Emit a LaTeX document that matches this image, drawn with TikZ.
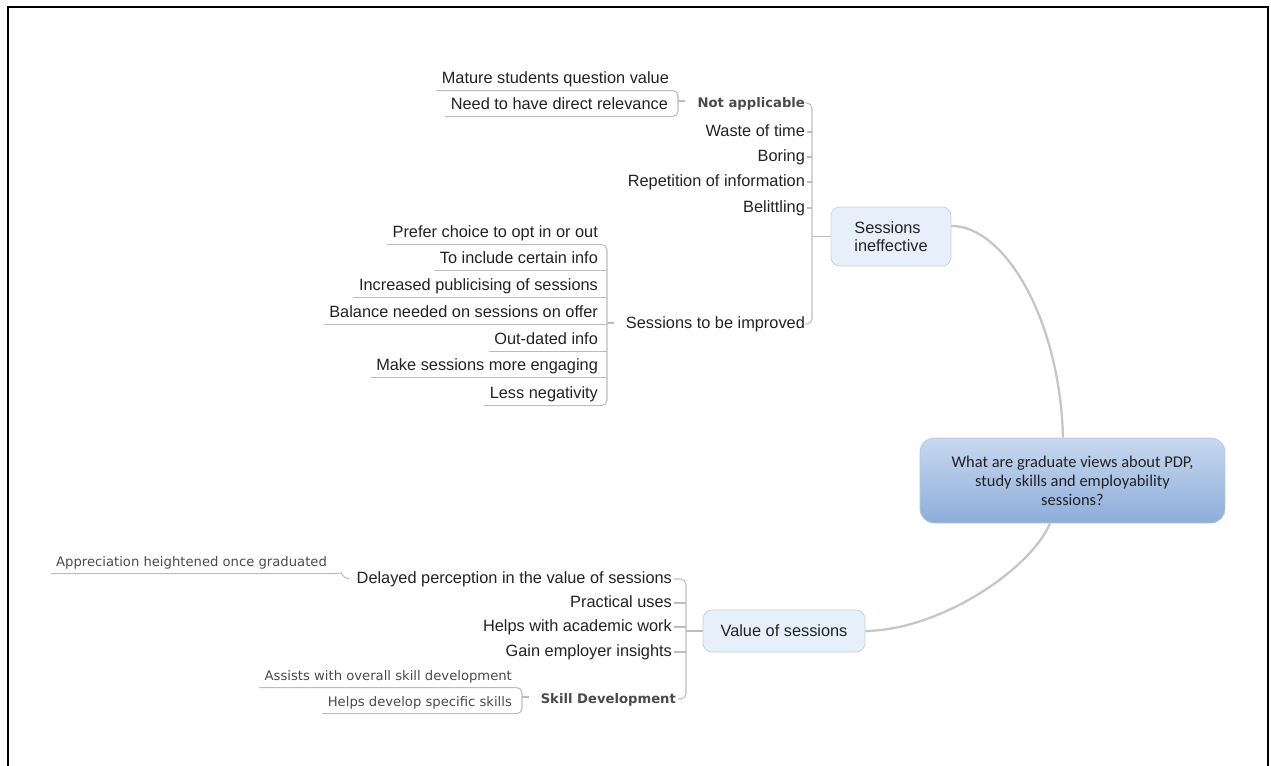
\documentclass[tikz,border=0pt]{standalone}
\usepackage{fontspec}
\setmainfont{Liberation Sans}
\newfontfamily\verdanafont{DejaVu Sans}
\newfontfamily\calibrifont{Carlito}
\usetikzlibrary{positioning}
\definecolor{txt}{HTML}{222222}
\definecolor{subtxt}{HTML}{4A4A4A}
\definecolor{linegray}{HTML}{BDBDBD}
\definecolor{curvegray}{HTML}{C6C6C6}
\definecolor{boxfill}{HTML}{E7EFFB}
\definecolor{boxline}{HTML}{C5D0DE}
\definecolor{rootTop}{HTML}{C8D8EF}
\definecolor{rootBot}{HTML}{8DADDA}
\newcommand{\mainsize}{\fontsize{9.3}{10.4}\selectfont}
\newcommand{\smallsize}{\fontsize{7.5}{9}\selectfont\verdanafont}
\tikzset{topicbox/.style={rectangle,draw=boxline,fill=boxfill,rounded corners=5pt,font=\mainsize,text=txt,align=left},leaf/.style={anchor=east,font=\mainsize,text=txt,inner xsep=1pt,inner ysep=2pt,text height=7pt,text depth=1.8pt},subleaf/.style={leaf,font=\smallsize,text=subtxt},headleaf/.style={leaf,font=\smallsize\bfseries,text=subtxt},branch/.style={draw=linegray,line width=0.6pt,rounded corners=3pt},mainlink/.style={draw=curvegray,line width=1.3pt}}

\begin{document}
\begin{tikzpicture}[x=0.02cm,y=-0.02cm]
\useasboundingbox (0,0) rectangle (1271,765);
\draw[line width=1.2pt] (8,770) -- (8,7) -- (1268,7) -- (1268,770);
% central question
\node[rectangle,draw=rootTop!80!gray,rounded corners=8pt,top color=rootTop,bottom color=rootBot,minimum width=6.1cm,minimum height=1.7cm,align=center,font=\calibrifont\fontsize{9.35}{10.8}\selectfont,text=txt] (root) at (1072.5,480.5) {What are graduate views about PDP,\\study skills and employability\\sessions?};
\node[topicbox,minimum width=2.4cm,minimum height=1.18cm] (ineff) at (891,236.5) {Sessions\\ineffective};
\node[topicbox,minimum width=3.24cm,minimum height=0.84cm] (value) at (784,631) {Value of sessions};
\draw[mainlink] (ineff.10) .. controls (1005,226) and (1060,320) .. ([xshift=-0.19cm]root.north);
\draw[mainlink] ([xshift=-0.45cm]root.south) .. controls (1030,570) and (940,630) .. (value.east);
% sessions ineffective
\node[headleaf] (nap) at (807,103) {Not applicable};
\node[leaf] (waste) at (807,132) {Waste of time};
\node[leaf] (boring) at (807,157) {Boring};
\node[leaf] (repet) at (807,182) {Repetition of information};
\node[leaf] (belit) at (807,208) {Belittling};
\node[leaf] (improve) at (807,324) {Sessions to be improved};
\coordinate (sp1) at (812,236.5);
\draw[branch] (nap.east) -| (sp1) |- (improve.east);
\foreach \n in {waste,boring,repet,belit}
  \draw[branch] (\n.east) -- (\n.east -| sp1);
\draw[branch] (ineff.west) -- (sp1);
% not applicable
\node[leaf] (mature) at (671,79) {Mature students question value};
\node[leaf] (need) at (670,105) {Need to have direct relevance};
\coordinate (sp2) at (678,101);
\draw[branch] ([xshift=-2pt]mature.south west) -- (mature.south -| sp2) -- (need.south -| sp2) -- ([xshift=-2pt]need.south west);
\draw[branch] (sp2) -- ++(7,0);
% sessions to be improved
\node[leaf] (prefer) at (600,233) {Prefer choice to opt in or out};
\node[leaf] (include) at (600,259) {To include certain info};
\node[leaf] (public) at (600,286) {Increased publicising of sessions};
\node[leaf] (balance) at (600,313) {Balance needed on sessions on offer};
\node[leaf] (outdated) at (600,340) {Out-dated info};
\node[leaf] (engage) at (600,366) {Make sessions more engaging};
\node[leaf] (negat) at (600,394) {Less negativity};
\coordinate (sp3) at (607,323);
\draw[branch] ([xshift=-2pt]prefer.south west) -- (prefer.south -| sp3) -- (negat.south -| sp3) -- ([xshift=-2pt]negat.south west);
\foreach \n in {include,public,balance,outdated,engage}
  \draw[branch] ([xshift=-2pt]\n.south west) -- (\n.south -| sp3);
\draw[branch] (sp3) -- ++(7,0);
% value of sessions
\node[leaf] (delayed) at (674,579) {Delayed perception in the value of sessions};
\node[leaf] (practical) at (674,603) {Practical uses};
\node[leaf] (academic) at (674,627) {Helps with academic work};
\node[leaf] (insight) at (674,652) {Gain employer insights};
\node[headleaf] (skill) at (678,699) {Skill Development};
\coordinate (sp4) at (686,631);
\draw[branch] (delayed.east) -| (sp4) |- (skill.east);
\foreach \n in {practical,academic,insight}
  \draw[branch] (\n.east) -- (\n.east -| sp4);
\draw[branch] (value.west) -- (sp4);
% delayed perception
\node[subleaf] (appreciate) at (329,562) {Appreciation heightened once graduated};
\draw[branch] ([xshift=-2pt]appreciate.south west) -- ([xshift=4pt]appreciate.south east) .. controls (341,573) and (343,578) .. ([xshift=-3pt]delayed.west);
% skill development
\node[subleaf] (assists) at (514,676) {Assists with overall skill development};
\node[subleaf] (specific) at (514,702) {Helps develop specific skills};
\coordinate (sp5) at (522,697);
\draw[branch] ([xshift=-2pt]assists.south west) -- (assists.south -| sp5) -- (specific.south -| sp5) -- ([xshift=-2pt]specific.south west);
\draw[branch] (sp5) -- ++(7,0);
\end{tikzpicture}
\end{document}
